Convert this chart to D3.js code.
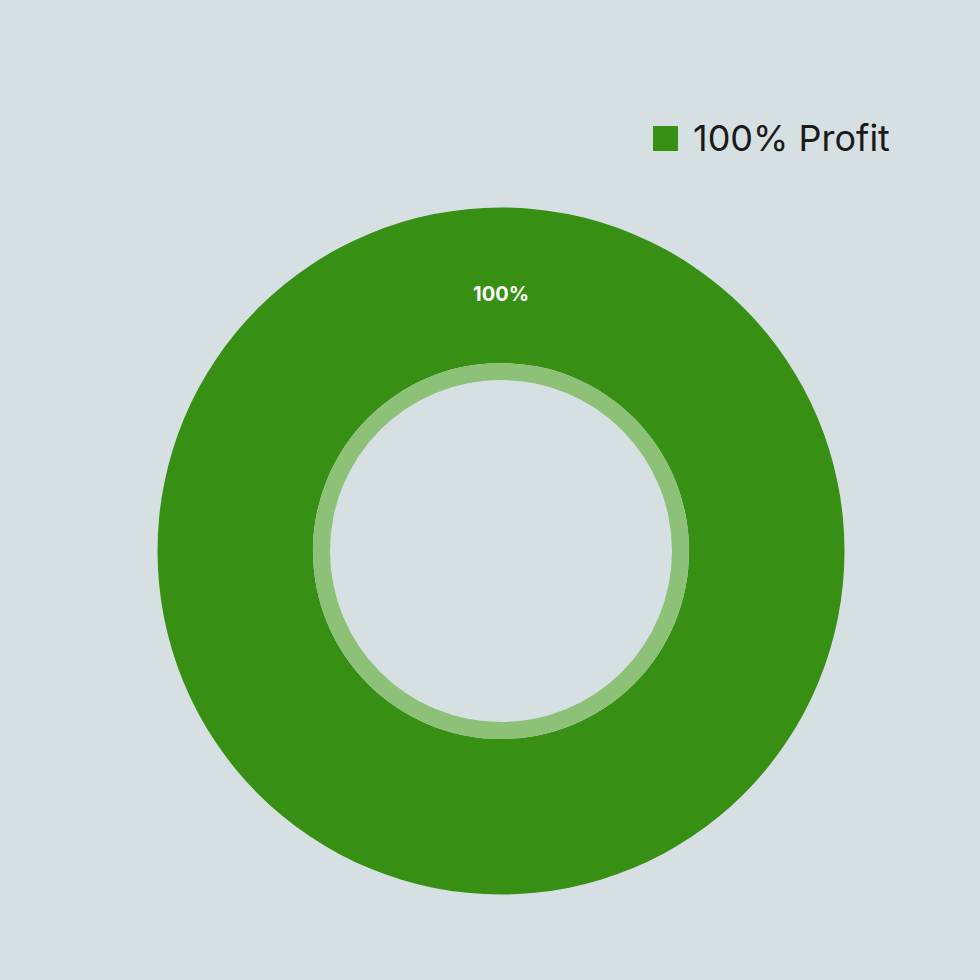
<!DOCTYPE html>
<html>
<head>
<meta charset="utf-8">
<script src="https://cdn.jsdelivr.net/npm/d3@7"></script>
<style>
  html, body { margin: 0; padding: 0; background: #d6e0e3; }
  svg { display: block; }
</style>
</head>
<body>
<svg id="chart"></svg>
<script>
// Chart data
const categories = ["Profit"];
const values = [100];
const colors = ["#378f14"];
const innerColors = ["#8dc178"];

const width = 980, height = 980;
const cx = 501, cy = 551;
const outerR = 343.5, innerR = 188, holeR = 171;

const svg = d3.select("#chart")
  .attr("width", width)
  .attr("height", height);

svg.append("rect")
  .attr("width", width)
  .attr("height", height)
  .attr("fill", "#d6e0e3");

const total = d3.sum(values);
const pie = d3.pie().sort(null).value(d => d)(values);

const arc = d3.arc().innerRadius(innerR).outerRadius(outerR);
const innerArc = d3.arc().innerRadius(holeR).outerRadius(innerR);

const g = svg.append("g").attr("transform", `translate(${cx},${cy})`);

// Main donut slices
g.selectAll("path.slice")
  .data(pie)
  .enter().append("path")
  .attr("class", "slice")
  .attr("d", arc)
  .attr("fill", (d, i) => colors[i]);

// Lighter inner ring
g.selectAll("path.inner")
  .data(pie)
  .enter().append("path")
  .attr("class", "inner")
  .attr("d", innerArc)
  .attr("fill", (d, i) => innerColors[i]);

// Slice labels (single full slice sits at the top)
function midAngle(d) {
  return (d.endAngle - d.startAngle) >= 2 * Math.PI - 1e-6 ? 0 : (d.startAngle + d.endAngle) / 2;
}

g.selectAll("text.label")
  .data(pie)
  .enter().append("text")
  .attr("class", "label")
  .attr("x", d => Math.sin(midAngle(d)) * 257)
  .attr("y", d => -Math.cos(midAngle(d)) * 257 + 7)
  .attr("text-anchor", "middle")
  .attr("fill", "#ffffff")
  .style("font-family", "Inter, sans-serif")
  .style("font-weight", "700")
  .style("font-size", "20px")
  .text(d => Math.round(d.value / total * 100) + "%");

// Legend
const legend = svg.append("g").attr("transform", "translate(653,126)");
categories.forEach((c, i) => {
  const row = legend.append("g").attr("transform", `translate(0,${i * 40})`);
  row.append("rect")
    .attr("width", 25)
    .attr("height", 25)
    .attr("fill", colors[i]);
  row.append("text")
    .attr("x", 40)
    .attr("y", 25)
    .attr("fill", "#1a1a1a")
    .style("font-family", "Inter, sans-serif")
    .style("font-size", "36px")
    .text(Math.round(values[i] / total * 100) + "% " + c);
});
</script>
</body>
</html>
